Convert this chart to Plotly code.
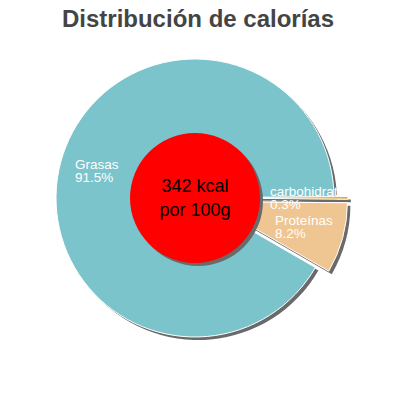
import math
import plotly.graph_objects as go

# ---- data ----
labels = ["Grasas", "carbohidratos", "Proteínas"]
values = [91.5, 0.3, 8.2]
pulls = [0.0, 0.1, 0.1]
colors = ["#7cc4cc", "#e2a52a", "#efc592"]
center_lines = ["342 kcal", "por 100g"]
title_text = "Distribución de calorías"

W = H = 400
OFF = 8                    # page body margin in the browser
cx, cy = 195 - OFF, 198 - OFF   # pie centre (px in figure)
R = 139                    # pie radius (px)
R_in = 65                  # red centre circle radius (px)
shadow_dx, shadow_dy = 3, 3
rotation = 120
max_pull = max(pulls)


def dom(x, y, half):
    return dict(x=[(x - half) / W, (x + half) / W],
                y=[1 - (y + half) / H, 1 - (y - half) / H])


half_main = R * (1 + max_pull)

fig = go.Figure()

# shadow of main pie
fig.add_trace(go.Pie(
    values=values, labels=labels, sort=False, direction="clockwise",
    rotation=rotation, pull=pulls, textinfo="none", hoverinfo="skip",
    marker=dict(colors=["#6a6a6a"] * len(values), line=dict(width=0)),
    domain=dom(cx + shadow_dx, cy + shadow_dy, half_main), showlegend=False))

# main pie
fig.add_trace(go.Pie(
    values=values, labels=labels, sort=False, direction="clockwise",
    rotation=rotation, pull=pulls, textinfo="none", hoverinfo="label+percent",
    marker=dict(colors=colors, line=dict(color="white", width=1)),
    domain=dom(cx, cy, half_main), showlegend=False))

# shadow of centre circle
fig.add_trace(go.Pie(
    values=[1], labels=["c"], sort=False, textinfo="none", hoverinfo="skip",
    marker=dict(colors=["#6a6a6a"], line=dict(width=0)),
    domain=dom(cx + shadow_dx, cy + shadow_dy, R_in), showlegend=False))

# red centre circle with text
fig.add_trace(go.Pie(
    values=[1], labels=["kcal"], sort=False, textinfo="text",
    text=["<br>".join(center_lines)], textposition="inside",
    insidetextfont=dict(size=18, color="black", family="Liberation Sans, Arial"),
    hoverinfo="skip",
    marker=dict(colors=["#ff0000"], line=dict(width=0)),
    domain=dom(cx, cy, R_in), showlegend=False))

# slice labels placed along slice bisectors (computed from data)
total = sum(values)
acc = 0.0
label_frac = 0.755
clip_w = 76
font = dict(size=13.5, color="white", family="Liberation Sans, Arial")
for lab, v, p in zip(labels, values, pulls):
    mid = rotation + (acc + v / 2) / total * 360.0   # clock degrees from 12 o'clock
    acc += v
    a = math.radians(mid)
    rr = R * (label_frac + p / 2)
    px = cx + rr * math.sin(a)
    py = cy - rr * math.cos(a)
    pct = f"{v / total * 100:.1f}%"
    est_w = len(lab) * 6.4
    box_w = min(est_w, clip_w)
    left = px - box_w / 2
    common = dict(x=left / W, y=1 - py / H, xref="paper", yref="paper",
                  showarrow=False, align="left", xanchor="left",
                  yanchor="middle", borderpad=0, font=font)
    name_ann = dict(common, text=lab, yshift=6.5)
    if est_w > clip_w:
        name_ann["width"] = clip_w
    fig.add_annotation(**name_ann)
    fig.add_annotation(**dict(common, text=pct, yshift=-6.5))

fig.update_layout(
    width=W, height=H,
    margin=dict(l=0, r=0, t=0, b=0),
    paper_bgcolor="white", plot_bgcolor="white",
    title=dict(text=f"<b>{title_text}</b>", x=(198 - OFF) / W, xanchor="center",
               y=1 - (19 - OFF) / H, yanchor="middle", yref="container",
               font=dict(size=24, color="#444444", family="Liberation Sans, Arial")),
)

fig.write_html("out.html")
